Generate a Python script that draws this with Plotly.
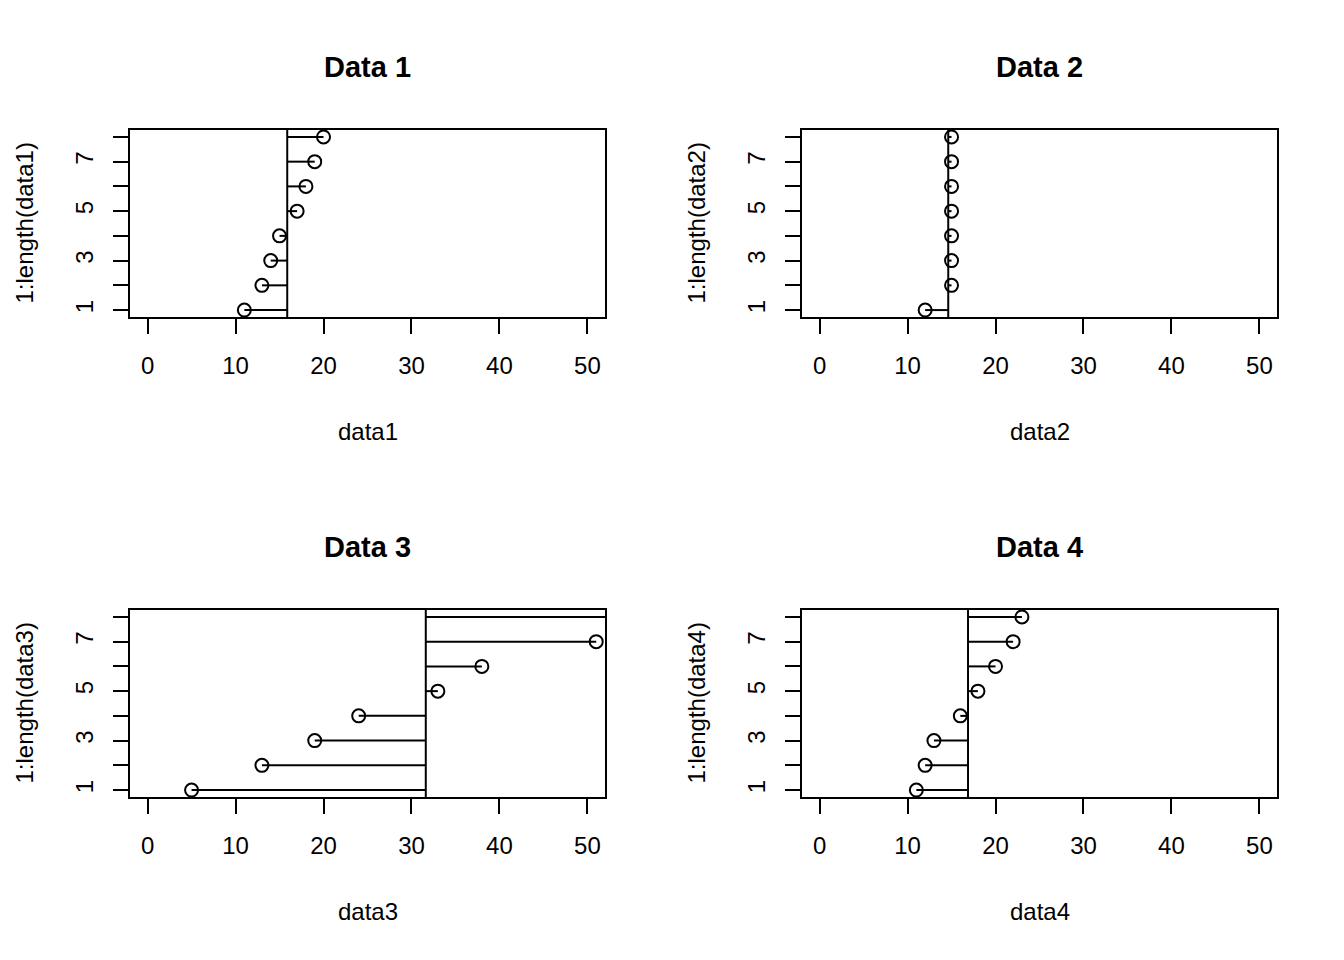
import plotly.graph_objects as go

# ---- data ----
index_vals = [1, 2, 3, 4, 5, 6, 7, 8]
data1 = [11, 13, 14, 15, 17, 18, 19, 20]
data2 = [12, 15, 15, 15, 15, 15, 15, 15]
data3 = [5, 13, 19, 24, 33, 38, 51, 70]
data4 = [11, 12, 13, 16, 18, 20, 22, 23]
titles = ["Data 1", "Data 2", "Data 3", "Data 4"]
xlabels = ["data1", "data2", "data3", "data4"]
ylabels = ["1:length(data1)", "1:length(data2)", "1:length(data3)", "1:length(data4)"]
x_ticks = [0, 10, 20, 30, 40, 50]
y_ticks = [1, 2, 3, 4, 5, 6, 7, 8]
y_ticktext = ["1", "", "3", "", "5", "", "7", ""]
x_lim = [0, 50]

series = [data1, data2, data3, data4]

W, H = 1344, 960
OFF = 8  # page body margin compensation
# panel boxes in pixels: (left, top, right, bottom)
boxes = [(130, 130, 605, 317), (802, 130, 1277, 317),
         (130, 610, 605, 797), (802, 610, 1277, 797)]

FONT = "Liberation Sans, Arial, Helvetica, sans-serif"
fig = go.Figure()

def expand(lo, hi):
    d = (hi - lo) * 0.04
    return [lo - d, hi + d]

xr = expand(*x_lim)
yr = expand(min(index_vals), max(index_vals))

annotations = []
shapes = []
for k, vals in enumerate(series):
    n = k + 1
    xa = "x" if n == 1 else f"x{n}"
    ya = "y" if n == 1 else f"y{n}"
    L, T, R, B = [v - OFF for v in boxes[k]]
    mean = sum(vals) / len(vals)

    # points
    fig.add_trace(go.Scatter(
        x=vals, y=index_vals, mode="markers", xaxis=xa, yaxis=ya,
        marker=dict(symbol="circle-open", size=13, color="black",
                    line=dict(width=2, color="black")),
        showlegend=False, hoverinfo="skip"))
    # segments from mean to each value
    sx, sy = [], []
    for v, i in zip(vals, index_vals):
        sx += [mean, v, None]
        sy += [i, i, None]
    fig.add_trace(go.Scatter(
        x=sx, y=sy, mode="lines", xaxis=xa, yaxis=ya,
        line=dict(color="black", width=2),
        showlegend=False, hoverinfo="skip"))
    # vertical mean line
    shapes.append(dict(type="line", xref=xa, yref=f"{ya} domain",
                       x0=mean, x1=mean, y0=0, y1=1,
                       line=dict(color="black", width=2)))

    xdom = [L / W, R / W]
    ydom = [1 - B / H, 1 - T / H]
    axis_common = dict(showline=True, linecolor="black", linewidth=2,
                       mirror=True, ticks="outside", ticklen=15,
                       tickwidth=2, tickcolor="black", showgrid=False,
                       zeroline=False, fixedrange=True,
                       tickfont=dict(family=FONT, size=24, color="black"))
    xkey = "xaxis" if n == 1 else f"xaxis{n}"
    ykey = "yaxis" if n == 1 else f"yaxis{n}"
    fig.update_layout(**{
        xkey: dict(domain=xdom, range=xr, anchor=ya, tickvals=x_ticks,
                   ticktext=[str(t) for t in x_ticks], ticklabelstandoff=11,
                   **axis_common),
        ykey: dict(domain=ydom, range=yr, anchor=xa, tickvals=y_ticks,
                   ticktext=y_ticktext, tickangle=-90, ticklabelstandoff=10,
                   **axis_common),
    })

    cx = (L + R) / 2
    cy = (T + B) / 2
    annotations.append(dict(text=f"<b>{titles[k]}</b>", x=cx / W, y=1 - (T - 63) / H,
                            xref="paper", yref="paper", showarrow=False,
                            xanchor="center", yanchor="middle",
                            font=dict(family=FONT, size=29, color="black")))
    annotations.append(dict(text=xlabels[k], x=cx / W, y=1 - (B + 114) / H,
                            xref="paper", yref="paper", showarrow=False,
                            xanchor="center", yanchor="middle",
                            font=dict(family=FONT, size=24, color="black")))
    annotations.append(dict(text=ylabels[k], x=(L - 106) / W, y=1 - cy / H,
                            xref="paper", yref="paper", showarrow=False,
                            textangle=-90, xanchor="center", yanchor="middle",
                            font=dict(family=FONT, size=24, color="black")))

fig.update_layout(width=W, height=H, margin=dict(l=0, r=0, t=0, b=0),
                  paper_bgcolor="white", plot_bgcolor="white",
                  annotations=annotations, shapes=shapes)

fig.write_html("out.html")
